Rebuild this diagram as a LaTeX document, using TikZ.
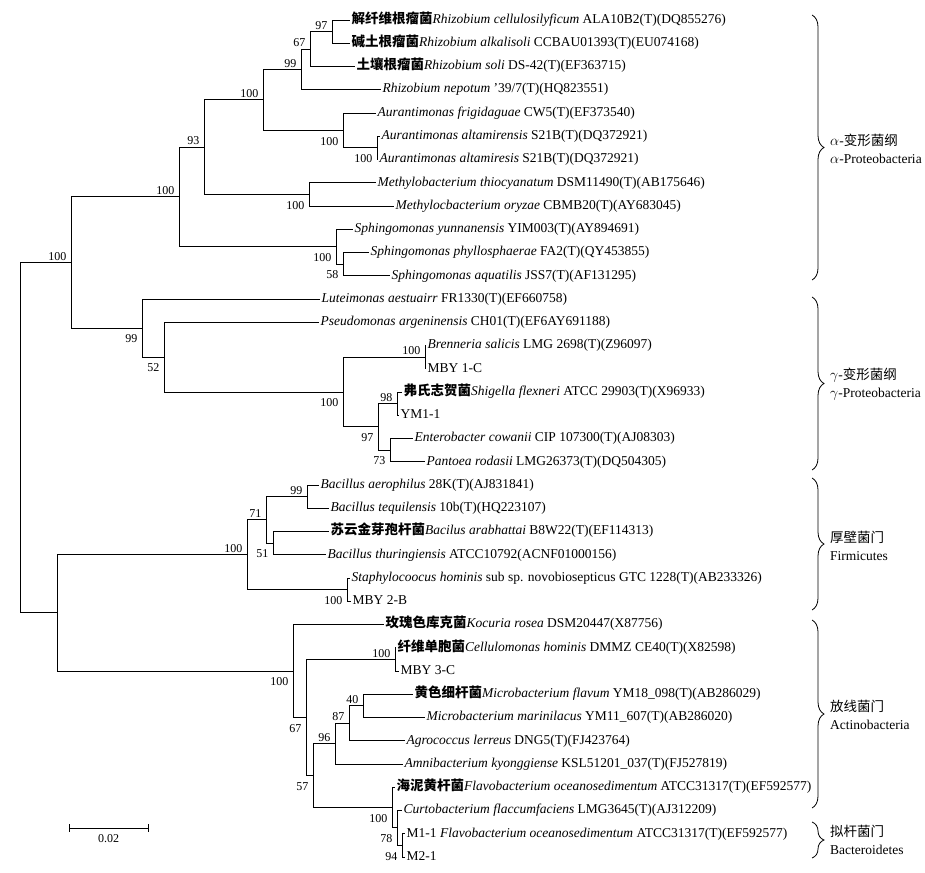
\documentclass[tikz,border=0pt]{standalone}
\usepackage{fontspec}
\setmainfont{Liberation Serif}
\newfontfamily\cjk{Noto Sans CJK SC}
\usepackage{tikz}
\usetikzlibrary{decorations.pathreplacing,positioning}

\newcommand{\zh}[1]{{\cjk\bfseries #1}}

\begin{document}
\begin{tikzpicture}[
                    x=1pt, y=-1pt,
                    branch/.style={draw, line width=0.9pt, black},
                    leaf/.style={
                        anchor=west,
                        inner sep=1.5pt,
                        text height=9pt,
                        text depth=2.5pt,
                        font=\fontsize{13.5}{16}\selectfont
                    },
                    boot/.style={inner sep=0.5pt, font=\fontsize{12}{14}\selectfont},
                    boot above/.style={boot, above left=1.5pt and 4pt},
                    boot below/.style={boot, below left=6pt and 4pt},
                    clade/.style={draw, line width=0.8pt, decorate, decoration={brace, amplitude=12pt}},
                    clade label/.style={anchor=west, align=left, inner sep=0pt, font=\fontsize{13.5}{18}\selectfont}
                ]
    \useasboundingbox (0,0) rectangle (925,872);

    \node[leaf] (l1)  at (350,20)     {\zh{解纤维根瘤菌}\textit{Rhizobium cellulosilyficum} ALA10B2(T)(DQ855276)};
    \node[leaf] (l2)  at (350,43.25)  {\zh{碱土根瘤菌}\textit{Rhizobium alkalisoli} CCBAU01393(T)(EU074168)};
    \node[leaf] (l3)  at (355,66.5)   {\zh{土壤根瘤菌}\textit{Rhizobium soli} DS-42(T)(EF363715)};
    \node[leaf] (l4)  at (381,89.75)  {\textit{Rhizobium nepotum} '39/7(T)(HQ823551)};
    \node[leaf] (l5)  at (376,113)    {\textit{Aurantimonas frigidaguae} CW5(T)(EF373540)};
    \node[leaf] (l6)  at (380,136.25) {\textit{Aurantimonas altamirensis} S21B(T)(DQ372921)};
    \node[leaf] (l7)  at (378,159.5)  {\textit{Aurantimonas altamiresis} S21B(T)(DQ372921)};
    \node[leaf] (l8)  at (376,182.75) {\textit{Methylobacterium thiocyanatum} DSM11490(T)(AB175646)};
    \node[leaf] (l9)  at (394,206)    {\textit{Methylocbacterium oryzae} CBMB20(T)(AY683045)};
    \node[leaf] (l10) at (353,229.25) {\textit{Sphingomonas yunnanensis} YIM003(T)(AY894691)};
    \node[leaf] (l11) at (369,252.5)  {\textit{Sphingomonas phyllosphaerae} FA2(T)(QY453855)};
    \node[leaf] (l12) at (390,275.75) {\textit{Sphingomonas aquatilis} JSS7(T)(AF131295)};
    \node[leaf] (l13) at (320,299)    {\textit{Luteimonas aestuairr} FR1330(T)(EF660758)};
    \node[leaf] (l14) at (319,322.25) {\textit{Pseudomonas argeninensis} CH01(T)(EF6AY691188)};
    \node[leaf] (l15) at (426,345.5)  {\textit{Brenneria salicis} LMG 2698(T)(Z96097)};
    \node[leaf] (l16) at (426,368.75) {MBY 1-C};
    \node[leaf] (l17) at (402,392)    {\zh{弗氏志贺菌}\textit{Shigella flexneri} ATCC 29903(T)(X96933)};
    \node[leaf] (l18) at (399,415.25) {YM1-1};
    \node[leaf] (l19) at (413,438.5)  {\textit{Enterobacter cowanii} CIP 107300(T)(AJ08303)};
    \node[leaf] (l20) at (425,461.75) {\textit{Pantoea rodasii} LMG26373(T)(DQ504305)};
    \node[leaf] (l21) at (319,485)    {\textit{Bacillus aerophilus} 28K(T)(AJ831841)};
    \node[leaf] (l22) at (329,508.25) {\textit{Bacillus tequilensis} 10b(T)(HQ223107)};
    \node[leaf] (l23) at (329,531.5)  {\zh{苏云金芽孢杆菌}\textit{Bacilus arabhattai} B8W22(T)(EF114313)};
    \node[leaf] (l24) at (326,554.75) {\textit{Bacillus thuringiensis} ATCC10792(ACNF01000156)};
    \node[leaf] (l25) at (350,578)    {\textit{Staphylocoocus hominis} sub sp. novobiosepticus GTC 1228(T)(AB233326)};
    \node[leaf] (l26) at (351,601.25) {MBY 2-B};
    \node[leaf] (l27) at (384,624.5)  {\zh{玫瑰色库克菌}\textit{Kocuria rosea} DSM20447(X87756)};
    \node[leaf] (l28) at (396,647.75) {\zh{纤维单胞菌}\textit{Cellulomonas hominis} DMMZ CE40(T)(X82598)};
    \node[leaf] (l29) at (399,671)    {MBY 3-C};
    \node[leaf] (l30) at (413,694.25) {\zh{黄色细杆菌}\textit{Microbacterium flavum} YM18\_098(T)(AB286029)};
    \node[leaf] (l31) at (425,717.5)  {\textit{Microbacterium marinilacus} YM11\_607(T)(AB286020)};
    \node[leaf] (l32) at (405,740.75) {\textit{Agrococcus lerreus} DNG5(T)(FJ423764)};
    \node[leaf] (l33) at (403,764)    {\textit{Amnibacterium kyonggiense} KSL51201\_037(T)(FJ527819)};
    \node[leaf] (l34) at (395,787.25) {\zh{海泥黄杆菌}\textit{Flavobacterium oceanosedimentum} ATCC31317(T)(EF592577)};
    \node[leaf] (l35) at (402,810.5)  {\textit{Curtobacterium flaccumfaciens} LMG3645(T)(AJ312209)};
    \node[leaf] (l36) at (405,833.75) {M1-1 \textit{Flavobacterium oceanosedimentum} ATCC31317(T)(EF592577)};
    \node[leaf] (l37) at (405,857)    {M2-1};

    \coordinate (n97)    at (332,31.6);
    \coordinate (n67)    at (310,49.1);
    \coordinate (n99)    at (301,69.4);
    \coordinate (nb100)  at (377,147.9);
    \coordinate (naur)   at (343,130.4);
    \coordinate (nrhi)   at (263,99.9);
    \coordinate (nmet)   at (309,194.4);
    \coordinate (n93)    at (204,147.2);
    \coordinate (n58)    at (343,264.1);
    \coordinate (nsph)   at (336,246.7);
    \coordinate (nalpha) at (179,196.9);
    \coordinate (nbren)  at (425,357.1);
    \coordinate (n98)    at (397,403.6);
    \coordinate (n73)    at (390,450.1);
    \coordinate (n97g)   at (378,426.9);
    \coordinate (ng100)  at (343,392);
    \coordinate (n52)    at (164,357.1);
    \coordinate (n99g)   at (142,328.1);
    \coordinate (nag)    at (71,262.5);
    \coordinate (n99b)   at (307,496.6);
    \coordinate (n51)    at (273,543.1);
    \coordinate (n71)    at (266,519.9);
    \coordinate (nstaph) at (347,589.6);
    \coordinate (nfirm)  at (247,554.8);
    \coordinate (ncell)  at (395,659.4);
    \coordinate (n40)    at (363,705.9);
    \coordinate (n87)    at (349,723.3);
    \coordinate (n96)    at (335,743.7);
    \coordinate (n94)    at (402,845.4);
    \coordinate (n78)    at (397,827.9);
    \coordinate (nflav)  at (392,807.6);
    \coordinate (n57)    at (313,775.6);
    \coordinate (n67a)   at (306,717.5);
    \coordinate (nact)   at (293,671);
    \coordinate (nfa)    at (57,612.9);
    \coordinate (root)   at (20,437.7);

    \draw[branch] (n97) |- (l1.west) (n97) |- (l2.west);
    \draw[branch] (n67) |- (n97) (n67) |- (l3.west);
    \draw[branch] (n99) |- (n67) (n99) |- (l4.west);
    \draw[branch] (nb100) |- (l6.west) (nb100) |- (l7.west);
    \draw[branch] (naur) |- (l5.west) (naur) |- (nb100);
    \draw[branch] (nrhi) |- (n99) (nrhi) |- (naur);
    \draw[branch] (nmet) |- (l8.west) (nmet) |- (l9.west);
    \draw[branch] (n93) |- (nrhi) (n93) |- (nmet);
    \draw[branch] (n58) |- (l11.west) (n58) |- (l12.west);
    \draw[branch] (nsph) |- (l10.west) (nsph) |- (n58);
    \draw[branch] (nalpha) |- (n93) (nalpha) |- (nsph);
    \draw[branch] (nbren) |- (l15.west) (nbren) |- (l16.west);
    \draw[branch] (n98) |- (l17.west) (n98) |- (l18.west);
    \draw[branch] (n73) |- (l19.west) (n73) |- (l20.west);
    \draw[branch] (n97g) |- (n98) (n97g) |- (n73);
    \draw[branch] (ng100) |- (nbren) (ng100) |- (n97g);
    \draw[branch] (n52) |- (l14.west) (n52) |- (ng100);
    \draw[branch] (n99g) |- (l13.west) (n99g) |- (n52);
    \draw[branch] (nag) |- (nalpha) (nag) |- (n99g);
    \draw[branch] (n99b) |- (l21.west) (n99b) |- (l22.west);
    \draw[branch] (n51) |- (l23.west) (n51) |- (l24.west);
    \draw[branch] (n71) |- (n99b) (n71) |- (n51);
    \draw[branch] (nstaph) |- (l25.west) (nstaph) |- (l26.west);
    \draw[branch] (nfirm) |- (n71) (nfirm) |- (nstaph);
    \draw[branch] (ncell) |- (l28.west) (ncell) |- (l29.west);
    \draw[branch] (n40) |- (l30.west) (n40) |- (l31.west);
    \draw[branch] (n87) |- (n40) (n87) |- (l32.west);
    \draw[branch] (n96) |- (n87) (n96) |- (l33.west);
    \draw[branch] (n94) |- (l36.west) (n94) |- (l37.west);
    \draw[branch] (n78) |- (l35.west) (n78) |- (n94);
    \draw[branch] (nflav) |- (l34.west) (nflav) |- (n78);
    \draw[branch] (n57) |- (n96) (n57) |- (nflav);
    \draw[branch] (n67a) |- (ncell) (n67a) |- (n57);
    \draw[branch] (nact) |- (l27.west) (nact) |- (n67a);
    \draw[branch] (nfa) |- (nfirm) (nfa) |- (nact);
    \draw[branch] (root) |- (nag) (root) |- (nfa);

    \node[boot above] (b1)  at (n97)    {97};
    \node[boot above] (b2)  at (n67)    {67};
    \node[boot above] (b3)  at (n99)    {99};
    \node[boot above] (b4)  at (nrhi)   {100};
    \node[boot below] (b5)  at (naur)   {100};
    \node[boot below] (b6)  at (nb100)  {100};
    \node[boot above] (b7)  at (n93)    {93};
    \node[boot below] (b8)  at (nmet)   {100};
    \node[boot above] (b9)  at (nalpha) {100};
    \node[boot below] (b10) at (nsph)   {100};
    \node[boot below] (b11) at (n58)    {58};
    \node[boot above] (b12) at (nag)    {100};
    \node[boot below] (b13) at (n99g)   {99};
    \node[boot below] (b14) at (n52)    {52};
    \node[boot below] (b15) at (ng100)  {100};
    \node[boot above] (b16) at (nbren)  {100};
    \node[boot above] (b17) at (n98)    {98};
    \node[boot below] (b18) at (n97g)   {97};
    \node[boot below] (b19) at (n73)    {73};
    \node[boot above] (b20) at (nfirm)  {100};
    \node[boot above] (b21) at (n71)    {71};
    \node[boot above] (b22) at (n99b)   {99};
    \node[boot below] (b23) at (n51)    {51};
    \node[boot below] (b24) at (nstaph) {100};
    \node[boot below] (b25) at (nact)   {100};
    \node[boot above] (b26) at (ncell)  {100};
    \node[boot below] (b27) at (n67a)   {67};
    \node[boot below] (b28) at (n57)    {57};
    \node[boot above] (b29) at (n96)    {96};
    \node[boot above] (b30) at (n87)    {87};
    \node[boot above] (b31) at (n40)    {40};
    \node[boot below] (b32) at (nflav)  {100};
    \node[boot below] (b33) at (n78)    {78};
    \node[boot below] (b34) at (n94)    {94};

    \coordinate (ca1) at (812,15);
    \coordinate (ca2) at (812,280);
    \coordinate (cg1) at (812,297);
    \coordinate (cg2) at (812,470);
    \coordinate (cf1) at (812,478);
    \coordinate (cf2) at (812,610);
    \coordinate (cn1) at (812,620);
    \coordinate (cn2) at (812,808);
    \coordinate (cb1) at (812,822);
    \coordinate (cb2) at (812,858);
    \draw[clade] (ca1) -- (ca2);
    \draw[clade] (cg1) -- (cg2);
    \draw[clade] (cf1) -- (cf2);
    \draw[clade] (cn1) -- (cn2);
    \draw[clade] (cb1) -- (cb2);
    \node[clade label] (ta) at (830,149) {$\alpha$-{\cjk 变形菌纲}\\$\alpha$-Proteobacteria};
    \node[clade label] (tg) at (830,384) {$\gamma$-{\cjk 变形菌纲}\\$\gamma$-Proteobacteria};
    \node[clade label] (tf) at (830,546) {{\cjk 厚壁菌门}\\Firmicutes};
    \node[clade label] (tn) at (830,715) {{\cjk 放线菌门}\\Actinobacteria};
    \node[clade label] (tb) at (830,840) {{\cjk 拟杆菌门}\\Bacteroidetes};

    \coordinate (sb1) at (69,828);
    \coordinate (sb2) at (148,828);
    \coordinate (sbm) at (108.5,828);
    \draw[branch] (sb1) -- (sb2);
    \draw[branch] ([yshift=4pt]sb1) -- ([yshift=-4pt]sb1);
    \draw[branch] ([yshift=4pt]sb2) -- ([yshift=-4pt]sb2);
    \node[boot, below=6pt] (sblab) at (sbm) {0.02};
\end{tikzpicture}
\end{document}
